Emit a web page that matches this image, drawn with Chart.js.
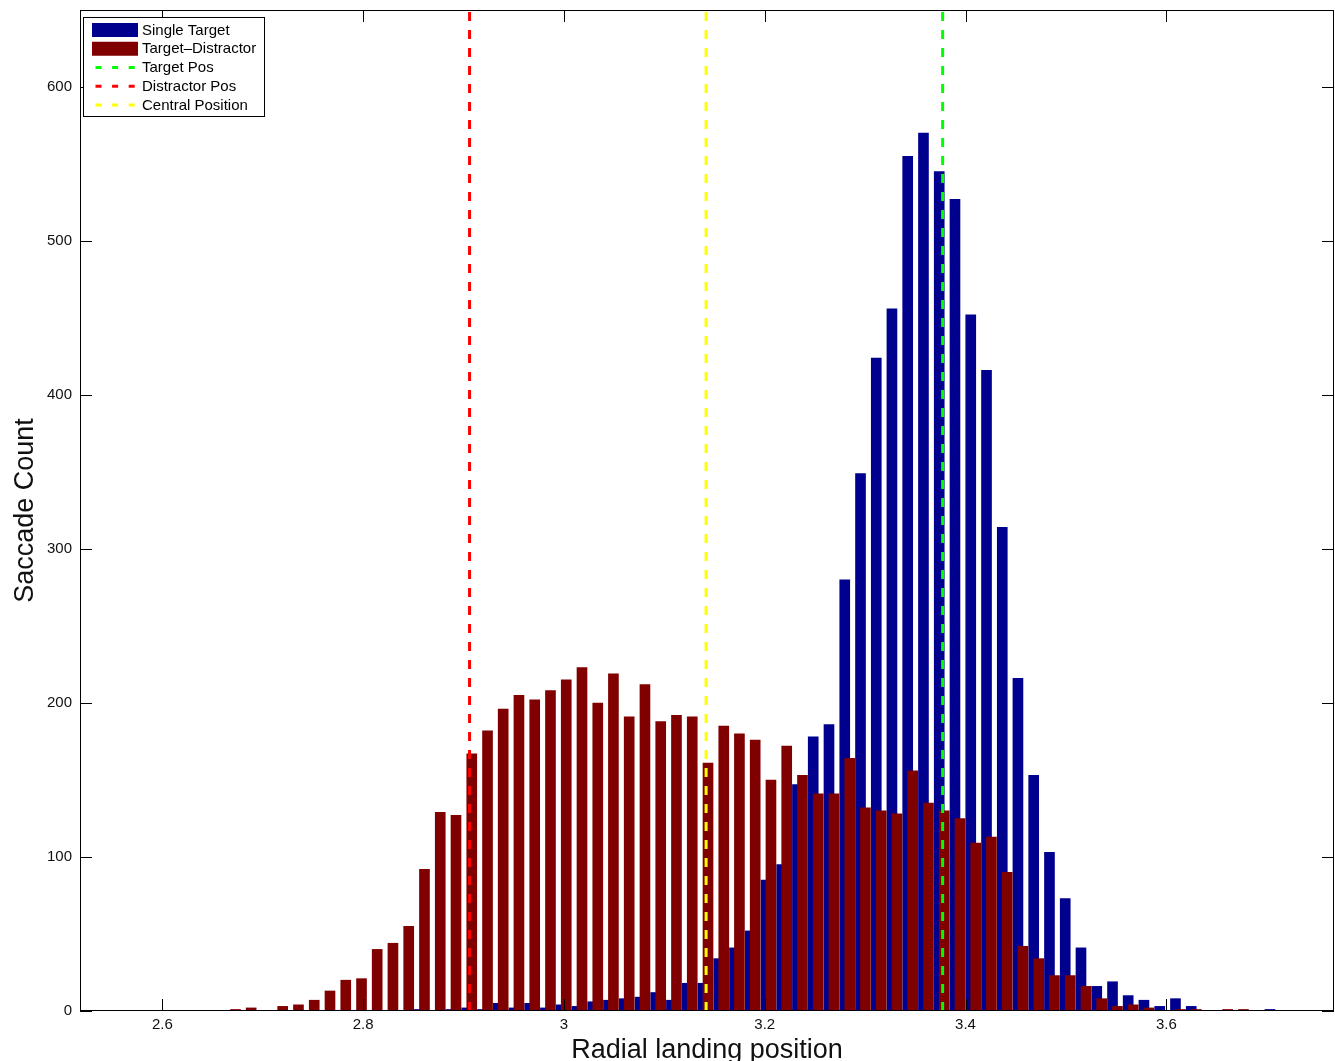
<!DOCTYPE html>
<html>
<head>
<meta charset="utf-8">
<script src="https://cdn.jsdelivr.net/npm/chart.js@4/dist/chart.umd.min.js"></script>
<style>
html,body{margin:0;padding:0;background:#fff;}
#wrap{width:1335px;height:1061px;position:relative;}
</style>
</head>
<body>
<div id="wrap"><canvas id="c" width="1335" height="1061"></canvas></div>
<script>
// ---- data ----
const singleTargetX = [2.8561,2.8718,2.8875,2.9032,2.9189,2.9346,2.9503,2.9659,2.9816,2.9973,
  3.0130,3.0287,3.0444,3.0601,3.0758,3.0914,3.1071,3.1228,3.1385,3.1542,
  3.1699,3.1856,3.2013,3.2169,3.2326,3.2483,3.2640,3.2797,3.2954,3.3111,
  3.3267,3.3424,3.3581,3.3738,3.3895,3.4052,3.4209,3.4366,3.4522,3.4679,
  3.4836,3.4993,3.5150,3.5307,3.5464,3.5620,3.5777,3.5934,3.6091,3.6248,
  3.6405,3.6562,3.6718,3.6875,3.7032];
const singleTargetCounts = [1,0,1,2,1,5,2,5,2,4,
  3,6,7,8,9,12,7,18,18,34,
  41,52,85,95,147,178,186,280,349,424,
  456,555,570,545,527,452,416,314,216,153,
  103,73,41,16,19,10,7,3,8,3,
  0,0,0,0,1];
const targetDistractorX = [2.6415,2.6572,2.6729,2.6885,2.7042,2.7199,2.7356,2.7513,2.7670,2.7827,
  2.7984,2.8140,2.8297,2.8454,2.8611,2.8768,2.8925,2.9082,2.9239,2.9395,
  2.9552,2.9709,2.9866,3.0023,3.0180,3.0337,3.0493,3.0650,3.0807,3.0964,
  3.1121,3.1278,3.1435,3.1592,3.1748,3.1905,3.2062,3.2219,3.2376,3.2533,
  3.2690,3.2847,3.3003,3.3160,3.3317,3.3474,3.3631,3.3788,3.3945,3.4101,
  3.4258,3.4415,3.4572,3.4729,3.4886,3.5043,3.5200,3.5356,3.5513,3.5670,
  3.5827,3.5984,3.6141,3.6298,3.6455,3.6611,3.6768,3.6925,3.7082,3.7239,
  3.7396,3.7553];
const targetDistractorCounts = [0,0,1,2,0,3,4,7,13,20,
  21,40,44,55,92,129,127,167,182,196,
  205,202,208,215,223,200,219,191,212,188,
  192,191,161,185,180,176,150,172,153,141,
  141,164,132,130,128,156,135,130,125,109,
  113,90,42,34,23,23,16,8,3,4,
  2,0,1,1,0,1,1,0,0,0,
  0,0];
const targetPos = 3.3772;
const distractorPos = 2.9060;
const centralPos = 3.1416;
const seriesNames = ['Single Target','Target\u2013Distractor','Target Pos','Distractor Pos','Central Position'];
const xTickValues = [2.6,2.8,3.0,3.2,3.4,3.6];
const xTickLabels = ['2.6','2.8','3','3.2','3.4','3.6'];
const yTickValues = [0,100,200,300,400,500,600];
const xRange = [2.518,3.767];
const yRange = [0,650];

// ---- styles ----
const BLUE = '#00008f', RED = '#800000';
const FONT = "'Liberation Sans', Arial, Helvetica, sans-serif";
Chart.defaults.font.family = FONT;
Chart.defaults.color = '#111';

const vline = (x) => [{x: x, y: yRange[0]}, {x: x, y: yRange[1]}];

const framePlugin = {
  id: 'frame',
  afterDatasetsDraw(chart) {
    const {ctx, chartArea: a, scales: {x, y}} = chart;
    ctx.save();
    ctx.strokeStyle = '#000';
    ctx.lineWidth = 1;
    ctx.setLineDash([]);
    ctx.beginPath();
    const L = 12;
    xTickValues.forEach(v => {
      const px = Math.round(x.getPixelForValue(v)) + 0.5;
      ctx.moveTo(px, a.bottom); ctx.lineTo(px, a.bottom - L);
      ctx.moveTo(px, a.top); ctx.lineTo(px, a.top + L);
    });
    yTickValues.forEach(v => {
      const py = Math.round(y.getPixelForValue(v)) + 0.5;
      ctx.moveTo(a.left, py); ctx.lineTo(a.left + L, py);
      ctx.moveTo(a.right, py); ctx.lineTo(a.right - L, py);
    });
    ctx.stroke();
    ctx.strokeRect(a.left + 0.5, a.top + 0.5, a.right - a.left - 1, a.bottom - a.top - 1);
    ctx.restore();
  },
  afterDraw(chart) {
    const {ctx, chartArea: a} = chart;
    const ds = chart.data.datasets;
    const order = [1, 0, 2, 3, 4]; // legend order: Single Target, Target-Distractor, lines
    const bx = a.left + 3.5, by = a.top + 7.5, bw = 181, bh = 99;
    ctx.save();
    ctx.fillStyle = '#fff';
    ctx.fillRect(bx, by, bw, bh);
    ctx.strokeStyle = '#000';
    ctx.lineWidth = 1;
    ctx.strokeRect(bx, by, bw, bh);
    ctx.font = '15px ' + FONT;
    ctx.textBaseline = 'middle';
    ctx.textAlign = 'left';
    order.forEach((di, row) => {
      const d = ds[di];
      const cy = by + 12.5 + row * 18.75;
      if (d.type === 'line') {
        ctx.strokeStyle = d.borderColor;
        ctx.lineWidth = 3;
        ctx.setLineDash([6, 10.6]);
        ctx.beginPath();
        ctx.moveTo(bx + 12, cy);
        ctx.lineTo(bx + 54, cy);
        ctx.stroke();
        ctx.setLineDash([]);
      } else {
        ctx.fillStyle = d.backgroundColor;
        ctx.fillRect(bx + 8.5, cy - 7, 46, 14);
      }
      ctx.fillStyle = '#000';
      ctx.fillText(d.label, bx + 58.5, cy + 0.5);
    });
    ctx.restore();
  }
};

new Chart(document.getElementById('c'), {
  type: 'bar',
  data: {
    datasets: [
      {
        type: 'bar', label: seriesNames[1],
        data: targetDistractorX.map((x, i) => ({x: x, y: targetDistractorCounts[i]})),
        backgroundColor: RED, borderWidth: 0, barThickness: 10, grouped: false, order: 1
      },
      {
        type: 'bar', label: seriesNames[0],
        data: singleTargetX.map((x, i) => ({x: x, y: singleTargetCounts[i]})),
        backgroundColor: BLUE, borderWidth: 0, barThickness: 10, grouped: false, order: 2
      },
      {
        type: 'line', label: seriesNames[2], data: vline(targetPos),
        borderColor: '#00ff00', borderWidth: 3, borderDash: [9, 9], pointRadius: 0, fill: false, order: 0
      },
      {
        type: 'line', label: seriesNames[3], data: vline(distractorPos),
        borderColor: '#ff0000', borderWidth: 3, borderDash: [9, 9], pointRadius: 0, fill: false, order: 0
      },
      {
        type: 'line', label: seriesNames[4], data: vline(centralPos),
        borderColor: '#ffff00', borderWidth: 3, borderDash: [9, 9], pointRadius: 0, fill: false, order: 0
      }
    ]
  },
  options: {
    responsive: false,
    animation: false,
    events: [],
    layout: {padding: {top: 10, right: 1, bottom: 0, left: 0}},
    plugins: {legend: {display: false}, tooltip: {enabled: false}},
    scales: {
      x: {
        type: 'linear', offset: false,
        min: xRange[0], max: xRange[1],
        grid: {display: false, drawTicks: false}, border: {display: false},
        afterBuildTicks: (s) => { s.ticks = xTickValues.map(v => ({value: v})); },
        afterFit: (s) => { s.height = 50; s.paddingLeft = 0; s.paddingRight = 0; },
        ticks: {
          autoSkip: false, maxRotation: 0, padding: 5,
          font: {size: 15}, color: '#111',
          callback: (v, i) => xTickLabels[i]
        },
        title: {
          display: true, text: 'Radial landing position',
          font: {size: 27, lineHeight: 1}, color: '#111', padding: {top: 0, bottom: -3}
        }
      },
      y: {
        min: yRange[0], max: yRange[1],
        grid: {display: false, drawTicks: false}, border: {display: false},
        afterBuildTicks: (s) => { s.ticks = yTickValues.map(v => ({value: v})); },
        afterFit: (s) => { s.width = 80; s.paddingTop = 0; s.paddingBottom = 0; },
        ticks: {padding: 8, font: {size: 15}, color: '#111'},
        title: {
          display: true, text: 'Saccade Count',
          font: {size: 27, lineHeight: 1}, color: '#111', padding: {top: 12.5, bottom: 0}
        }
      }
    }
  },
  plugins: [framePlugin]
});
</script>
</body>
</html>
